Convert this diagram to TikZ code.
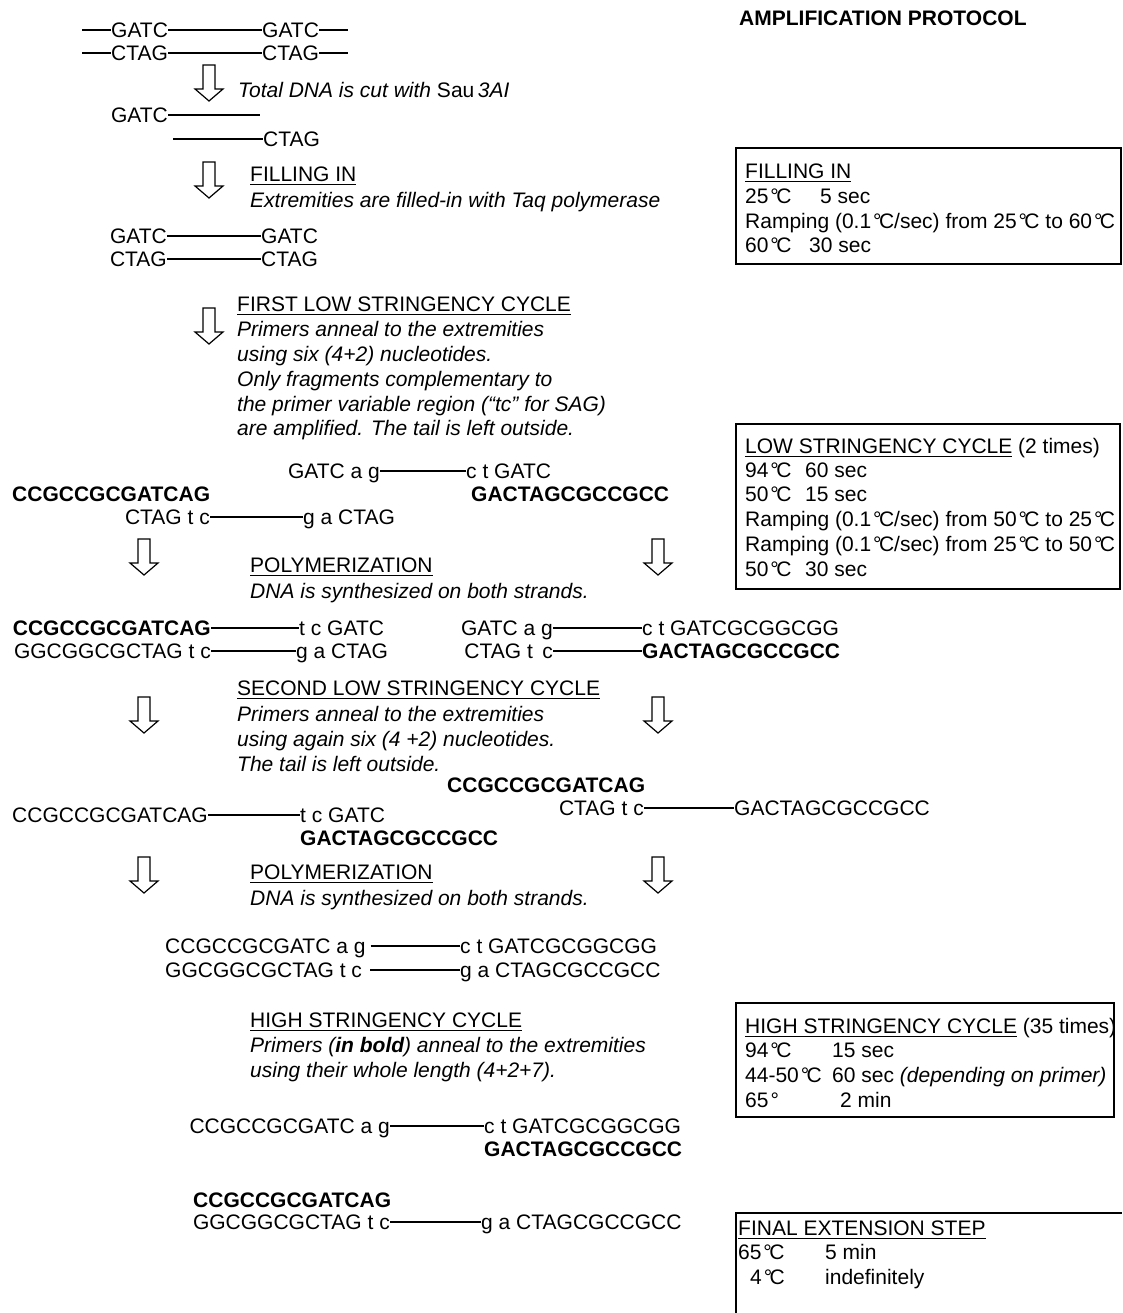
\documentclass[tikz,border=0pt]{standalone}
\usepackage{fontspec}
\setmainfont{Liberation Sans}
\newcommand\myul[1]{\setbox0=\hbox{#1}\rlap{\rule[-3.4pt]{\wd0}{1.3pt}}\box0\relax}
\newcommand\degC{\hspace{0.09em}°\kern-0.12em C}
\tikzset{
  txt/.style={inner sep=0pt, anchor=west, text height=15pt, text depth=0pt, font=\fontsize{21}{25}\selectfont},
  txte/.style={txt, anchor=east},
  itx/.style={txt, font=\fontsize{21}{25}\selectfont\itshape},
  bfx/.style={txt, font=\fontsize{21}{25}\selectfont\bfseries},
  bfxe/.style={bfx, anchor=east},
  strand/.style={line width=1.6pt},
  boxline/.style={line width=1.4pt},
  hollow/.pic={\draw[line width=1.2pt, line join=miter] (-6,0) -- (6,0) -- (6,24) -- (14,24) -- (0,36) -- (-14,24) -- (-6,24) -- cycle;}
}
\begin{document}
\begin{tikzpicture}[x=1pt,y=-1pt]
\fill[white] (0,0) rectangle (1122,1313);
\useasboundingbox (0,0) rectangle (1122,1313);

% ---------- left column ----------
\coordinate (r1a) at (82,30);
\node[txt] (r1g1) at (111,30) {GATC};
\node[txt] (r1g2) at (262,30) {GATC};
\coordinate (r1b) at (348,30);
\draw[strand] (r1a) -- (r1g1.west) (r1g1.east) -- (r1g2.west) (r1g2.east) -- (r1b);
\coordinate (r2a) at (82,53);
\node[txt] (r2c1) at (111,53) {CTAG};
\node[txt] (r2c2) at (262,53) {CTAG};
\coordinate (r2b) at (348,53);
\draw[strand] (r2a) -- (r2c1.west) (r2c1.east) -- (r2c2.west) (r2c2.east) -- (r2b);

\pic at (209,65) {hollow};
\node[itx] (t1) at (238,90) {Total DNA is cut with {\upshape Sau}\,3AI};

\node[txte] (r3g) at (168,115) {GATC};
\coordinate (r3e) at (260,115);
\draw[strand] (r3g.east) -- (r3e);
\coordinate (r4s) at (173,139);
\node[txt] (r4c) at (263,139) {CTAG};
\draw[strand] (r4s) -- (r4c.west);

\pic at (209,162) {hollow};
\node[txt] (h1) at (250,174) {\myul{FILLING IN}};
\node[itx] (d1) at (250,200) {Extremities are filled-in with Taq polymerase};

\node[txte] (r5a) at (167,236) {GATC};
\node[txt] (r5b) at (261,236) {GATC};
\draw[strand] (r5a.east) -- (r5b.west);
\node[txte] (r6a) at (167,259) {CTAG};
\node[txt] (r6b) at (261,259) {CTAG};
\draw[strand] (r6a.east) -- (r6b.west);

\pic at (209,308) {hollow};
\node[txt] (h2) at (237,304) {\myul{FIRST LOW STRINGENCY CYCLE}};
\node[itx] (d2a) at (237,329) {Primers anneal to the extremities};
\node[itx] (d2b) at (237,354) {using six (4+2) nucleotides.};
\node[itx] (d2c) at (237,379) {Only fragments complementary to};
\node[itx] (d2d) at (237,404) {the primer variable region (“tc” for SAG)};
\node[itx] (d2e) at (237,428) {are amplified. The tail is left outside.};

\node[txte] (ra1) at (380,471) {GATC a g};
\node[txt] (ra2) at (466,471) {c t GATC};
\draw[strand] (ra1.east) -- (ra2.west);
\node[bfx] (pb1) at (12,494) {CCGCCGCGATCAG};
\node[bfx] (pb2) at (471,494) {GACTAGCGCCGCC};
\node[txte] (rc1) at (210,517) {CTAG t c};
\node[txt] (rc2) at (303,517) {g a CTAG};
\draw[strand] (rc1.east) -- (rc2.west);

\pic at (144,539) {hollow};
\pic at (658,539) {hollow};
\node[txt] (h3) at (250,565) {\myul{POLYMERIZATION}};
\node[itx] (d3) at (250,591) {DNA is synthesized on both strands.};

\node[bfxe] (rd1) at (211,628) {CCGCCGCGATCAG};
\node[txt] (rd2) at (299,628) {t c GATC};
\draw[strand] (rd1.east) -- (rd2.west);
\node[txte] (rd3) at (553,628) {GATC a g};
\node[txt] (rd4) at (642,628) {c t GATCGCGGCGG};
\draw[strand] (rd3.east) -- (rd4.west);
\node[txte] (re1) at (211,651) {GGCGGCGCTAG t c};
\node[txt] (re2) at (296,651) {g a CTAG};
\draw[strand] (re1.east) -- (re2.west);
\node[txte] (re3) at (553,651) {CTAG t\hspace{0.45em}c};
\node[bfx] (re4) at (642,651) {GACTAGCGCCGCC};
\draw[strand] (re3.east) -- (re4.west);

\node[txt] (h4) at (237,688) {\myul{SECOND LOW STRINGENCY CYCLE}};
\pic at (144,697) {hollow};
\pic at (658,697) {hollow};
\node[itx] (d4a) at (237,714) {Primers anneal to the extremities};
\node[itx] (d4b) at (237,739) {using again six (4 +2) nucleotides.};
\node[itx] (d4c) at (237,764) {The tail is left outside.};

\node[bfx] (pb3) at (447,785) {CCGCCGCGATCAG};
\node[txte] (rf1) at (644,808) {CTAG t c};
\node[txt] (rf2) at (734,808) {GACTAGCGCCGCC};
\draw[strand] (rf1.east) -- (rf2.west);
\node[txte] (rg1) at (208,815) {CCGCCGCGATCAG};
\node[txt] (rg2) at (300,815) {t c GATC};
\draw[strand] (rg1.east) -- (rg2.west);
\node[bfx] (pb4) at (300,838) {GACTAGCGCCGCC};

\pic at (144,857) {hollow};
\pic at (658,857) {hollow};
\node[txt] (h5) at (250,872) {\myul{POLYMERIZATION}};
\node[itx] (d5) at (250,898) {DNA is synthesized on both strands.};

\node[txt] (rh1) at (165,946) {CCGCCGCGATC a g};
\node[txt] (rh2) at (460,946) {c t GATCGCGGCGG};
\draw[strand] ([xshift=5pt]rh1.east) -- (rh2.west);
\node[txt] (ri1) at (165,970) {GGCGGCGCTAG t c};
\node[txt] (ri2) at (460,970) {g a CTAGCGCCGCC};
\draw[strand] ([xshift=8pt]ri1.east) -- (ri2.west);

\node[txt] (h6) at (250,1020) {\myul{HIGH STRINGENCY CYCLE}};
\node[itx] (d6a) at (250,1045) {Primers (\textbf{in bold}) anneal to the extremities};
\node[itx] (d6b) at (250,1070) {using their whole length (4+2+7).};

\node[txte] (rj1) at (390,1126) {CCGCCGCGATC a g};
\node[txt] (rj2) at (484,1126) {c t GATCGCGGCGG};
\draw[strand] (rj1.east) -- (rj2.west);
\node[bfx] (pb5) at (484,1149) {GACTAGCGCCGCC};
\node[bfx] (pb6) at (193,1200) {CCGCCGCGATCAG};
\node[txte] (rk1) at (390,1222) {GGCGGCGCTAG t c};
\node[txt] (rk2) at (481,1222) {g a CTAGCGCCGCC};
\draw[strand] (rk1.east) -- (rk2.west);

% ---------- right column ----------
\node[bfx] (title) at (739,18) {AMPLIFICATION PROTOCOL};

\draw[boxline] (736,148) rectangle (1121,264);
\node[txt] (b1t) at (745,171) {\myul{FILLING IN}};
\node[txt] (b1a) at (745,196) {25\degC};
\node[txt] (b1a2) at (820,196) {5 sec};
\node[txt] (b1b) at (745,221) {Ramping (0.1\degC/sec) from 25\degC{} to 60\degC};
\node[txt] (b1c) at (745,245) {60\degC};
\node[txt] (b1c2) at (809,245) {30 sec};

\draw[boxline] (736,424) rectangle (1120,589);
\node[txt] (b2t) at (745,446) {\myul{LOW STRINGENCY CYCLE} (2 times)};
\node[txt] (b2a) at (745,470) {94\degC};
\node[txt] (b2a2) at (805,470) {60 sec};
\node[txt] (b2b) at (745,494) {50\degC};
\node[txt] (b2b2) at (805,494) {15 sec};
\node[txt] (b2c) at (745,519) {Ramping (0.1\degC/sec) from 50\degC{} to 25\degC};
\node[txt] (b2d) at (745,544) {Ramping (0.1\degC/sec) from 25\degC{} to 50\degC};
\node[txt] (b2e) at (745,569) {50\degC};
\node[txt] (b2e2) at (805,569) {30 sec};

\draw[boxline] (736,1003) rectangle (1114,1117);
\node[txt] (b3t) at (745,1026) {\myul{HIGH STRINGENCY CYCLE} (35 times)};
\node[txt] (b3a) at (745,1050) {94\degC};
\node[txt] (b3a2) at (832,1050) {15 sec};
\node[txt] (b3b) at (745,1075) {44-50\degC};
\node[txt] (b3b2) at (832,1075) {60 sec \textit{(depending on primer)}};
\node[txt] (b3c) at (745,1100) {65\hspace{0.1em}°};
\node[txt] (b3c2) at (840,1100) {2 min};

\draw[boxline] (736,1313) -- (736,1213) -- (1122,1213);
\node[txt] (b4t) at (738,1228) {\myul{FINAL EXTENSION STEP}};
\node[txt] (b4a) at (738,1252) {65\degC};
\node[txt] (b4a2) at (825,1252) {5 min};
\node[txt] (b4b) at (750,1277) {4\degC};
\node[txt] (b4b2) at (825,1277) {indefinitely};
\end{tikzpicture}
\end{document}
